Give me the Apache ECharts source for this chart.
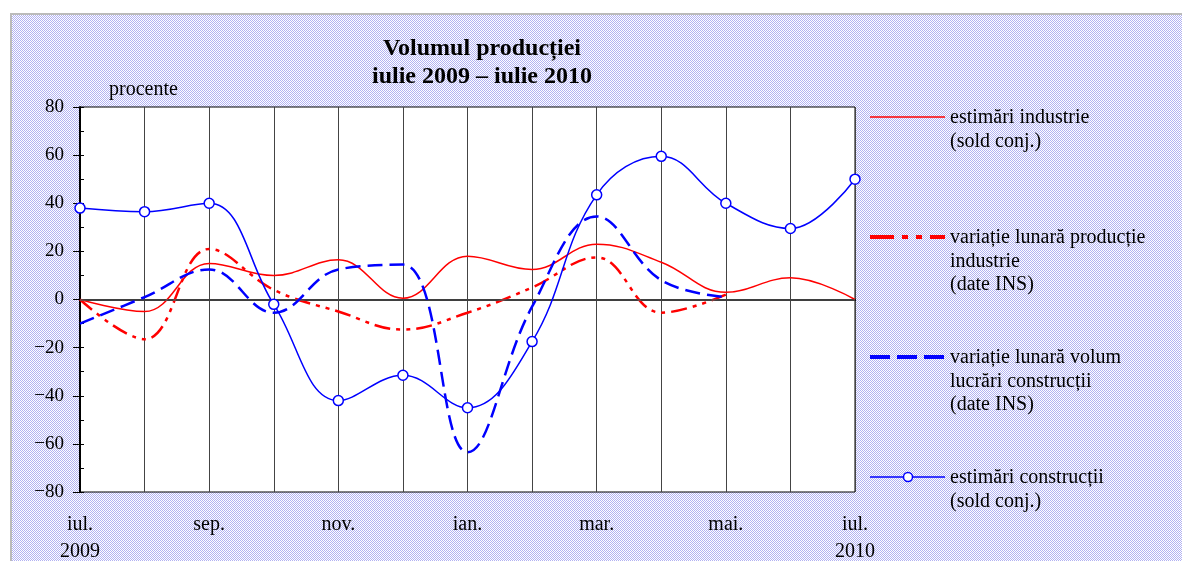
<!DOCTYPE html>
<html>
<head>
  <meta charset="utf-8">
  <title>Volumul producției</title>
  <script src="https://cdn.jsdelivr.net/npm/echarts@6/dist/echarts.min.js"></script>
  <style>
    html, body {
      margin: 0;
      padding: 0;
      background: #fff;
    }
    #bg {
      position: absolute;
      left: 10px;
      top: 13px;
      width: 1180px;
      height: 560px;
      border-left: 2px solid #bbb;
      border-top: 2px solid #bbb;
      background: repeating-conic-gradient(#b2b2f2 0 25%, #fff 0 50%) 0 0 / 2px 2px;
    }
    #chart {
      position: absolute;
      left: 0;
      top: 0;
      width: 1182px;
      height: 561px;
    }
  </style>
</head>
<body>
  <div id="bg"></div>
  <div id="chart"></div>
  <script>
    // months jul 2009 .. jul 2010
    var months = ['iul.', 'aug.', 'sep.', 'oct.', 'nov.', 'dec.', 'ian.', 'feb.', 'mar.', 'apr.', 'mai.', 'iun.', 'iul.'];
    var years = { 0: '2009', 12: '2010' };

    var estimariIndustrie = [0, -5, 15, 10, 16.5, 0.5, 18, 12.5, 23, 15.5, 3, 9, 0];
    var variatieProductie = [0, -16.5, 21, 4, -5, -12.5, -5.5, 5, 17.5, -5.5, 2, null, null];
    var variatieConstructii = [-10, 1, 12.5, -5.5, 12.5, 14.5, -63.5, -3, 34.5, 8, 1, null, null];
    var estimariConstructii = [38, 36.5, 40, -2, -42, -31.5, -45, -17.5, 43.5, 59.5, 40, 29.5, 50];

    var seriesNames = [
      'estimări industrie\n(sold conj.)',
      'variație lunară producție\nindustrie\n(date INS)',
      'variație lunară volum\nlucrări construcții\n(date INS)',
      'estimări construcții\n(sold conj.)'
    ];

    var serif = '"Liberation Serif", "Times New Roman", serif';
    var dashDotDot = [16, 6, 4, 6, 4, 6];
    var dashed = [15, 7];

    var chart = echarts.init(document.getElementById('chart'));

    // legend drawn by hand on the right
    var legendRows = [
      { y: 117, color: '#ff0000', width: 1.5, dash: null, marker: false },
      { y: 237, color: '#ff0000', width: 4, dash: [24, 8, 6, 8, 6, 8], marker: false },
      { y: 357, color: '#0000ff', width: 4, dash: [20, 7], marker: false },
      { y: 477, color: '#0000ff', width: 1.5, dash: null, marker: true }
    ];
    var graphics = [];
    legendRows.forEach(function (r, i) {
      graphics.push({
        type: 'line',
        shape: { x1: 870, y1: r.y, x2: 945, y2: r.y },
        style: { stroke: r.color, lineWidth: r.width, lineDash: r.dash }
      });
      if (r.marker) {
        graphics.push({
          type: 'circle',
          shape: { cx: 908, cy: r.y, r: 4.5 },
          style: { fill: '#fff', stroke: r.color, lineWidth: 1.5 }
        });
      }
      graphics.push({
        type: 'text',
        left: 950,
        top: r.y - 11,
        style: {
          text: seriesNames[i],
          font: '20px ' + serif,
          fill: '#000',
          lineHeight: 23.5
        }
      });
    });
    graphics.push({
      type: 'text',
      left: 109,
      top: 80,
      style: { text: 'procente', font: '20px ' + serif, fill: '#000' }
    });

    var option = {
      animation: false,
      backgroundColor: 'transparent',
      title: {
        text: 'Volumul producției\niulie 2009 – iulie 2010',
        left: 477,
        top: 30,
        textAlign: 'center',
        textStyle: {
          fontFamily: serif,
          fontWeight: 'bold',
          fontSize: 24,
          color: '#000',
          lineHeight: 28
        }
      },
      grid: {
        left: 80,
        right: 327,
        top: 107,
        bottom: 69,
        outerBoundsMode: 'none',
        containLabel: false,
        show: true,
        backgroundColor: '#fff',
        borderColor: '#000',
        borderWidth: 1
      },
      xAxis: {
        type: 'category',
        data: months,
        boundaryGap: false,
        axisLine: { lineStyle: { color: '#000', width: 2 } },
        axisTick: { show: false },
        axisLabel: {
          interval: 1,
          margin: 19,
          fontFamily: serif,
          fontSize: 20,
          color: '#000',
          lineHeight: 27,
          formatter: function (v, i) {
            return years[i] ? v + '\n' + years[i] : v;
          }
        },
        splitLine: { show: true, interval: 0, lineStyle: { color: '#444', width: 1 } }
      },
      yAxis: [
        {
          type: 'value',
          min: -80,
          max: 80,
          interval: 20,
          axisLine: { show: true, lineStyle: { color: '#000', width: 2 } },
          axisTick: { show: true, length: 7, lineStyle: { color: '#000' } },
          axisLabel: {
            margin: 16,
            fontFamily: serif,
            fontSize: 19,
            color: '#000',
            formatter: function (v) { return v < 0 ? '−' + (-v) : String(v); }
          },
          splitLine: { show: false }
        },
        {
          type: 'value',
          position: 'left',
          min: -80,
          max: 80,
          interval: 10,
          axisLine: { show: false },
          axisTick: { show: true, inside: true, length: 4, lineStyle: { color: '#000' } },
          axisLabel: { show: false },
          splitLine: { show: false }
        }
      ],
      graphic: graphics,
      series: [
        {
          name: seriesNames[0],
          type: 'line',
          data: estimariIndustrie,
          smooth: 0.4,
          showSymbol: false,
          lineStyle: { color: '#ff0000', width: 1.5 },
          markLine: {
            silent: true,
            symbol: 'none',
            label: { show: false },
            lineStyle: { color: '#555', width: 1.5, type: 'solid' },
            data: [{ yAxis: 0 }]
          },
          z: 3
        },
        {
          name: seriesNames[1],
          type: 'line',
          data: variatieProductie,
          smooth: 0.4,
          showSymbol: false,
          lineStyle: { color: '#ff0000', width: 2.5, type: dashDotDot },
          z: 4
        },
        {
          name: seriesNames[2],
          type: 'line',
          data: variatieConstructii,
          smooth: 0.4,
          showSymbol: false,
          lineStyle: { color: '#0000ff', width: 2.5, type: dashed },
          z: 5
        },
        {
          name: seriesNames[3],
          type: 'line',
          data: estimariConstructii,
          smooth: 0.4,
          symbol: 'circle',
          symbolSize: 10,
          showSymbol: true,
          itemStyle: { color: '#fff', borderColor: '#0000ff', borderWidth: 1.5 },
          lineStyle: { color: '#0000ff', width: 1.5 },
          z: 6
        }
      ]
    };

    chart.setOption(option);
  </script>
</body>
</html>
